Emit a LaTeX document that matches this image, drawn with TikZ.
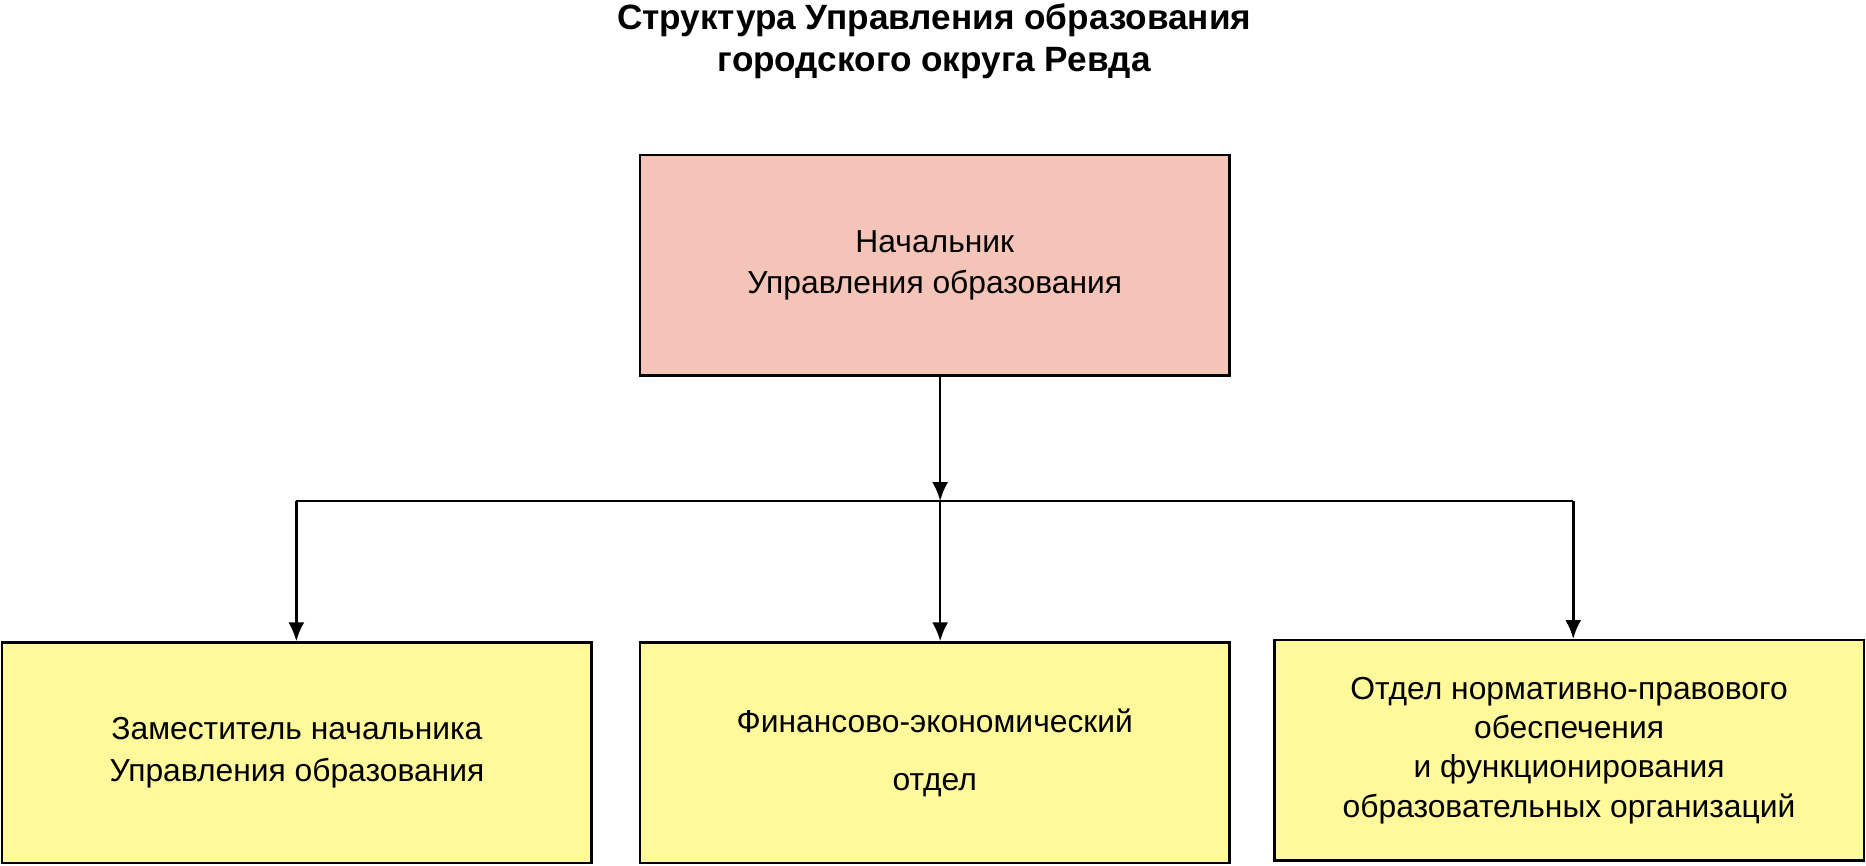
\documentclass[tikz,border=0pt]{standalone}
\usepackage{fontspec}
\setmainfont{Liberation Sans}
\usetikzlibrary{arrows.meta}
\tikzset{>={Latex[length=4.5pt,width=3.8pt]}}
\definecolor{headcol}{HTML}{F5C4B8}
\definecolor{unitcol}{HTML}{FFF99C}
\tikzset{unit/.style = {shape=rectangle,draw,line width=0.6pt,minimum width=4.95cm,minimum height=1.85cm,align=center,font=\fontsize{7.6pt}{10pt}\selectfont,inner sep=0pt}}

\begin{document}
\begin{tikzpicture}[x=0.01cm,y=-0.01cm]
                    \useasboundingbox (0,0) rectangle (1568,727);
                    \node[font=\fontsize{8.4pt}{10pt}\selectfont\bfseries,align=center] (T) at (785,35) {Структура Управления образования\\городского округа Ревда};

                    \node[unit,fill=headcol] (H) at (785.5,223) {Начальник\\Управления образования};

                    \node[unit,fill=unitcol] (Z) at (249.5,632.5) {Заместитель начальника\\Управления образования};
                    \node[unit,fill=unitcol] (F) at (785.5,632.5) {Финансово-экономический\\[4pt]отдел};
                    \node[unit,fill=unitcol,font=\fontsize{7.6pt}{9.4pt}\selectfont] (O) at (1318.5,630.5) {Отдел нормативно-правового\\обеспечения\\и функционирования\\образовательных организаций};

                    \coordinate (J) at (790,421);
                    \coordinate (L) at (249,421);
                    \coordinate (R) at (1322,421);

                    \draw[->,line width=0.6pt] (H.south -| J) -- (J);
                    \draw[line width=0.6pt] (L) -- (R);
                    \draw[->,line width=0.6pt] (L) -- (L |- Z.north);
                    \draw[->,line width=0.6pt] (J) -- (J |- F.north);
                    \draw[->,line width=0.6pt] (R) -- (R |- O.north);
                \end{tikzpicture}
\end{document}
